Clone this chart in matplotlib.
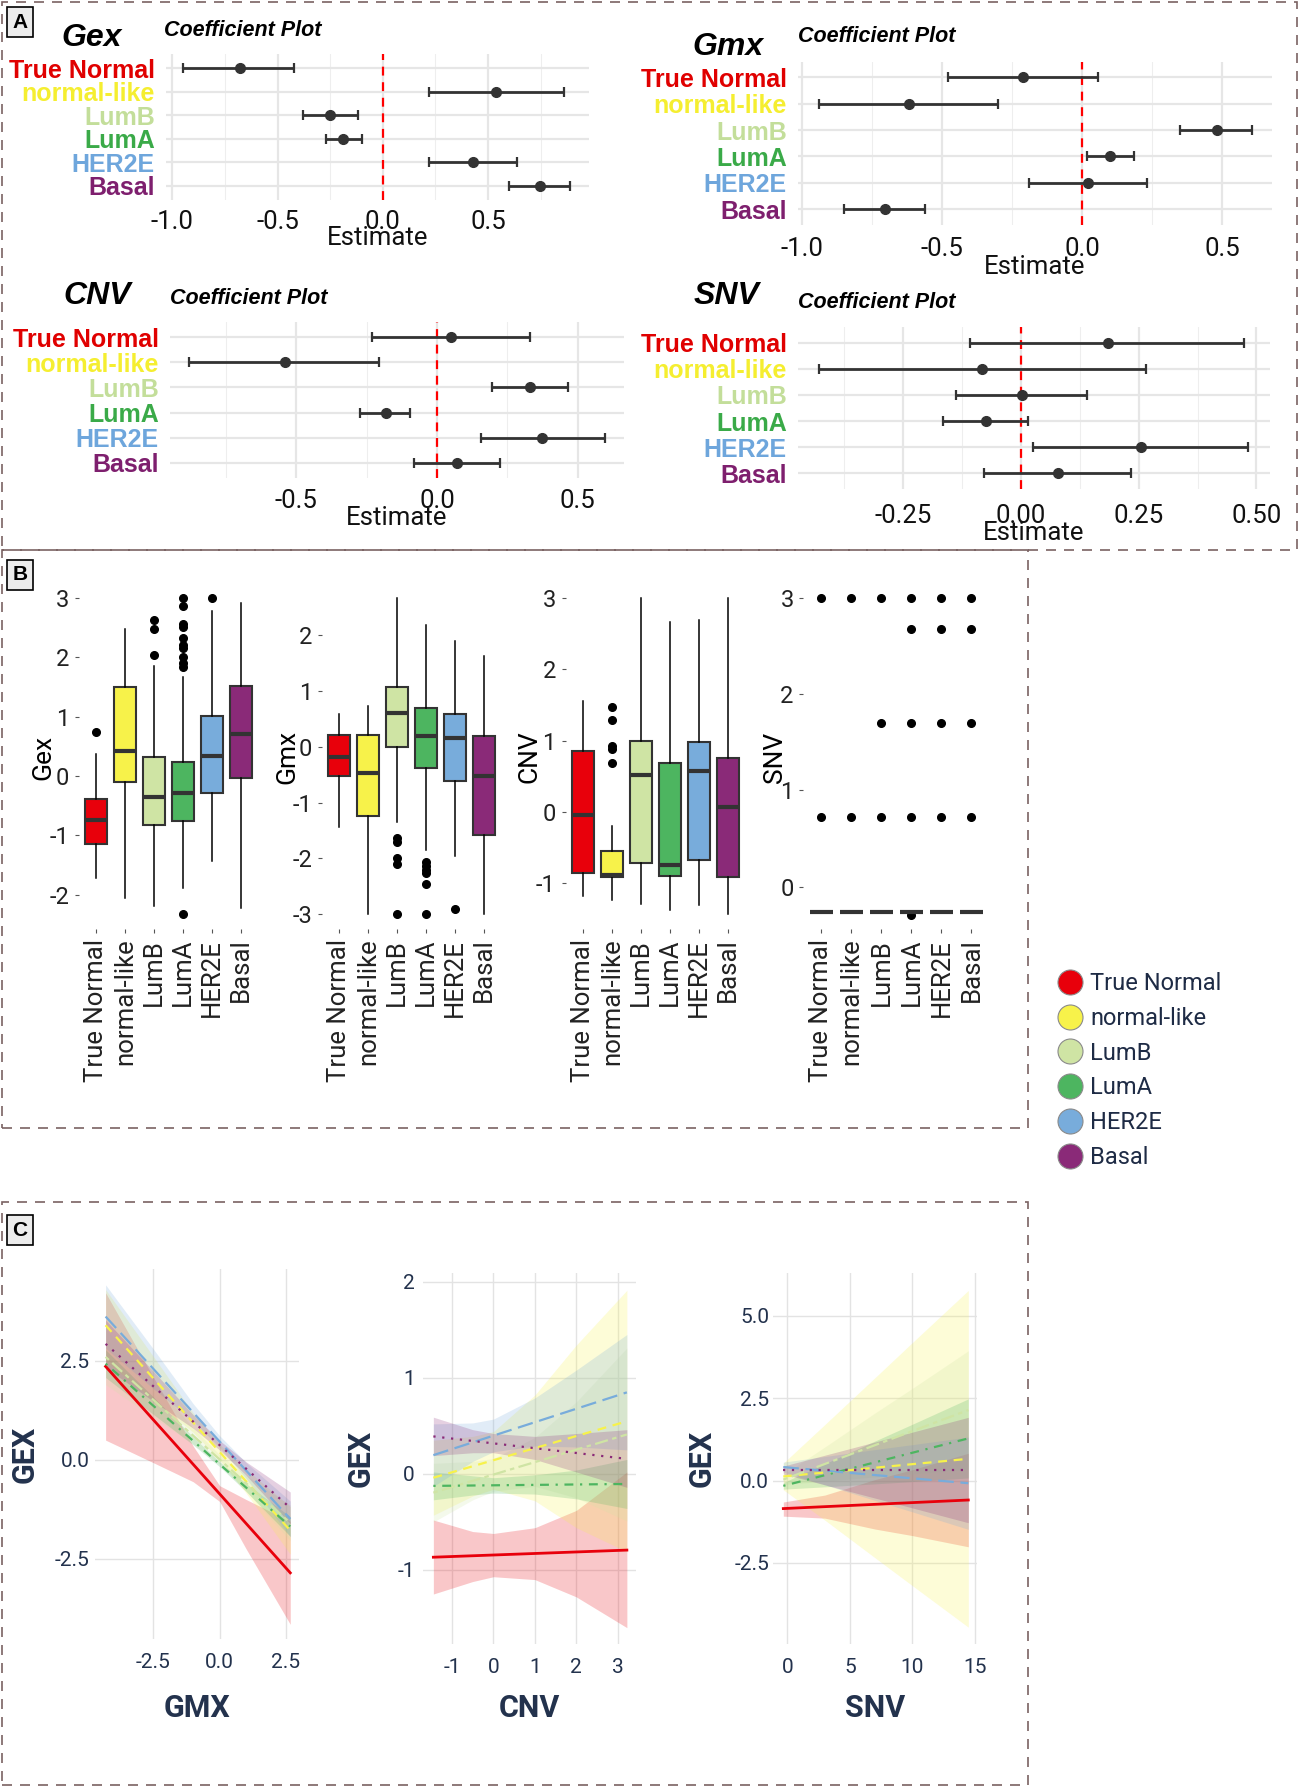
import numpy as np
import matplotlib
matplotlib.use('Agg')
import matplotlib.pyplot as plt
from matplotlib.patches import Rectangle
from matplotlib.lines import Line2D

W, H = 1299, 1788
fig = plt.figure(figsize=(W / 100, H / 100), dpi=100)
plt.rcParams['font.family'] = ['Roboto', 'DejaVu Sans']

# ---------------- data ----------------
categories = ['True Normal', 'normal-like', 'LumB', 'LumA', 'HER2E', 'Basal']
colors = ['#E8000B', '#F7F24A', '#CFE4A4', '#4DB560', '#78ACDB', '#8A2A78']
text_colors = ['#E00000', '#F5EE30', '#C3DE9A', '#3AAA48', '#6EA6DC', '#7E1F6E']

# Panel A coefficient estimates and 95% intervals
gex_est = [-0.68, 0.54, -0.25, -0.19, 0.43, 0.745]
gex_lo = [-0.95, 0.22, -0.38, -0.27, 0.22, 0.60]
gex_hi = [-0.42, 0.86, -0.12, -0.10, 0.64, 0.89]
gmx_est = [-0.21, -0.62, 0.48, 0.10, 0.02, -0.705]
gmx_lo = [-0.48, -0.94, 0.35, 0.017, -0.19, -0.85]
gmx_hi = [0.056, -0.30, 0.605, 0.186, 0.23, -0.56]
cnv_est = [0.05, -0.54, 0.33, -0.18, 0.375, 0.07]
cnv_lo = [-0.23, -0.88, 0.195, -0.275, 0.155, -0.08]
cnv_hi = [0.33, -0.205, 0.465, -0.097, 0.597, 0.223]
snv_est = [0.184, -0.082, 0.003, -0.075, 0.255, 0.078]
snv_lo = [-0.108, -0.43, -0.138, -0.166, 0.026, -0.078]
snv_hi = [0.473, 0.265, 0.141, 0.014, 0.483, 0.233]

# Panel B box statistics
gex_q1 = [-1.15, -0.11, -0.83, -0.76, -0.29, -0.04]
gex_med = [-0.745, 0.42, -0.36, -0.28, 0.33, 0.71]
gex_q3 = [-0.39, 1.50, 0.32, 0.24, 1.01, 1.52]
gex_wlo = [-1.72, -2.05, -2.20, -1.89, -1.44, -2.22]
gex_whi = [0.366, 2.48, 1.85, 1.66, 2.78, 2.91]
gex_out = [[0.74], [], [2.63, 2.47, 2.04],
           [3.0, 2.87, 2.57, 2.51, 2.33, 2.21, 2.15, 2.0, 1.91, 1.83, -2.32], [3.0], []]

gmx_q1 = [-0.53, -1.24, 0.0, -0.38, -0.61, -1.58]
gmx_med = [-0.19, -0.47, 0.60, 0.19, 0.15, -0.52]
gmx_q3 = [0.20, 0.21, 1.07, 0.68, 0.59, 0.18]
gmx_wlo = [-1.43, -3.0, -1.34, -1.85, -1.96, -3.0]
gmx_whi = [0.59, 0.72, 2.66, 2.17, 1.89, 1.61]
gmx_out = [[], [], [-1.63, -1.71, -1.99, -2.10, -3.0],
           [-2.06, -2.14, -2.21, -2.26, -2.45, -3.0], [-2.91], []]

cnv_q1 = [-0.855, -0.905, -0.72, -0.90, -0.675, -0.915]
cnv_med = [-0.045, -0.885, 0.515, -0.75, 0.575, 0.065]
cnv_q3 = [0.85, -0.545, 0.995, 0.68, 0.975, 0.76]
cnv_wlo = [-1.18, -1.235, -1.285, -1.375, -1.30, -1.435]
cnv_whi = [1.55, -0.20, 3.0, 2.665, 2.69, 3.0]
cnv_out = [[], [1.475, 1.29, 0.925, 0.88, 0.68], [], [], [], []]

snv_q1 = [-0.263] * 6
snv_med = [-0.263] * 6
snv_q3 = [-0.263] * 6
snv_wlo = [-0.263] * 6
snv_whi = [-0.263] * 6
snv_out = [[3.0, 0.72], [3.0, 0.72], [3.0, 1.70, 0.72],
           [3.0, 2.68, 1.70, 0.72, -0.29], [3.0, 2.68, 1.70, 0.72], [3.0, 2.68, 1.70, 0.72]]

# Panel C fitted lines (start/end) and confidence bands
gmx_x = [-4.3, 2.66]
gmx_fit = [[2.36, -2.85], [3.40, -1.78], [2.60, -1.59], [2.43, -1.68], [3.62, -1.49], [2.93, -1.21]]
gmx_band_x = [-4.3, -2.5, -1.0, 0.0, 1.0, 2.66]
gmx_band_lo = [[0.50, -0.07, -0.55, -1.05, -2.25, -4.15],
               [2.50, 1.51, 0.70, 0.00, -0.84, -2.38],
               [1.90, 1.07, 0.41, -0.11, -0.79, -2.04],
               [2.08, 1.15, 0.38, -0.17, -0.80, -1.93],
               [2.82, 1.80, 0.98, 0.31, -0.47, -1.94],
               [2.33, 1.48, 0.80, 0.25, -0.39, -1.61]]
gmx_band_hi = [[4.22, 2.09, 0.35, -0.65, -1.00, -1.55],
               [4.30, 2.61, 1.19, 0.40, -0.24, -1.18],
               [3.30, 1.97, 0.81, 0.13, -0.39, -1.14],
               [2.78, 1.59, 0.58, -0.05, -0.60, -1.43],
               [4.42, 2.80, 1.42, 0.61, -0.07, -1.04],
               [3.53, 2.24, 1.14, 0.49, -0.05, -0.81]]

cnv_x = [-1.45, 3.22]
cnv_fit = [[-0.867, -0.793], [-0.04, 0.547], [-0.195, 0.41], [-0.125, -0.105], [0.195, 0.848], [0.39, 0.156]]
cnv_band_x = [-1.45, -0.5, 0.0, 1.0, 2.0, 3.22]
cnv_band_lo = [[-1.25, -1.12, -1.07, -1.10, -1.28, -1.60],
               [-0.43, -0.23, -0.16, -0.28, -0.56, -0.81],
               [-0.50, -0.27, -0.18, -0.13, -0.25, -0.49],
               [-0.27, -0.22, -0.20, -0.21, -0.26, -0.36],
               [-0.13, 0.13, 0.23, 0.29, 0.28, 0.25],
               [0.19, 0.22, 0.22, 0.15, 0.02, -0.14]]
cnv_band_hi = [[-0.48, -0.60, -0.62, -0.56, -0.38, 0.02],
               [0.35, 0.39, 0.44, 0.82, 1.34, 1.91],
               [0.11, 0.13, 0.16, 0.38, 0.75, 1.31],
               [0.02, -0.02, -0.04, -0.01, 0.04, 0.15],
               [0.52, 0.53, 0.57, 0.79, 1.08, 1.45],
               [0.59, 0.46, 0.42, 0.39, 0.42, 0.46]]

snv_x = [-0.32, 14.47]
snv_fit = [[-0.85, -0.59], [0.125, 0.66], [0.03, 2.14], [-0.16, 1.28], [0.41, -0.08], [0.32, 0.32]]
snv_band_x = [-0.32, 3.0, 7.0, 10.0, 14.47]
snv_band_lo = [[-1.08, -1.14, -1.47, -1.67, -2.01],
               [-0.28, -1.20, -2.34, -3.19, -4.45],
               [-0.12, -0.02, 0.11, 0.20, 0.34],
               [-0.26, -0.19, -0.10, -0.03, 0.08],
               [0.26, -0.13, -0.60, -0.95, -1.48],
               [0.20, -0.13, -0.53, -0.83, -1.28]]
snv_band_hi = [[-0.65, -0.44, 0.03, 0.33, 0.83],
               [0.53, 1.70, 3.12, 4.19, 5.77],
               [0.18, 1.02, 2.05, 2.80, 3.94],
               [-0.06, 0.51, 1.20, 1.71, 2.48],
               [0.56, 0.73, 0.94, 1.09, 1.32],
               [0.44, 0.77, 1.17, 1.47, 1.92]]

line_styles = ['-', (0, (4, 3)), (0, (2, 2, 6, 2)), (0, (1, 3, 4, 3)), (0, (7, 3)), (0, (1, 3))]
NAVY = '#23324d'


def add_ax(x0, y0, x1, y1):
    return fig.add_axes([x0 / W, 1 - y1 / H, (x1 - x0) / W, (y1 - y0) / H])


def px_text(x, y, s, **kw):
    fig.text(x / W, 1 - y / H, s, **kw)


# ---------------- Panel A ----------------
def coef_panel(box, est, lo, hi, xlim, ticks, minor, title, title_xy, sub_xy, tick_pad, est_y):
    x0, y0, x1, y1 = box
    ax = add_ax(x0, y0, x1, y1)
    ypos = np.arange(1, 7)
    est = np.array(est); lo = np.array(lo); hi = np.array(hi)
    ax.set_xlim(*xlim)
    ax.set_ylim(6.6, 0.4)
    ax.set_xticks(ticks)
    ax.set_xticklabels(['%.2f' % t if title == 'SNV' else '%.1f' % t for t in ticks],
                       fontsize=18.5, fontweight='normal', color='#111111')
    ax.set_xticks(minor, minor=True)
    ax.set_yticks(ypos)
    ax.set_yticklabels(categories, fontsize=18, fontweight='bold', family='Liberation Sans')
    for t, c in zip(ax.get_yticklabels(), text_colors):
        t.set_color(c)
    ax.grid(True, which='major', color='#e6e6e6', lw=1.6)
    ax.grid(True, which='minor', axis='x', color='#eeeeee', lw=0.8)
    ax.set_axisbelow(True)
    for s in ax.spines.values():
        s.set_visible(False)
    ax.tick_params(axis='both', which='both', length=0)
    ax.tick_params(axis='x', pad=tick_pad)
    ax.tick_params(axis='y', pad=8)
    ax.axvline(0, color='#ff0000', ls=(0, (4, 3)), lw=1.6, zorder=2)
    ax.errorbar(est, ypos, xerr=[est - lo, hi - est], fmt='o', color='#333333',
                ms=7, elinewidth=2.0, capsize=3.5, capthick=1.6, zorder=3)
    ax.set_xlabel('Estimate', fontsize=18.5, fontweight='normal', color='#111111')
    ax.xaxis.set_label_coords(0.5, (y1 - est_y) / (y1 - y0))
    ax.xaxis.label.set_va('center')
    px_text(title_xy[0], title_xy[1], title, fontsize=23, fontweight='bold', style='italic',
            family='Liberation Sans', ha='center', va='center')
    px_text(sub_xy[0], sub_xy[1], 'Coefficient Plot', fontsize=15.5, fontweight='bold',
            style='italic', family='Liberation Sans', ha='left', va='center')
    return ax


coef_panel((166, 54, 589, 200), gex_est, gex_lo, gex_hi, (-1.03, 0.98),
           [-1.0, -0.5, 0.0, 0.5], [-0.75, -0.25, 0.25, 0.75], 'Gex', (92, 38), (164, 31), 7, 238)
coef_panel((798, 61.5, 1272, 225), gmx_est, gmx_lo, gmx_hi, (-1.015, 0.678),
           [-1.0, -0.5, 0.0, 0.5], [-0.75, -0.25, 0.25], 'Gmx', (728, 47), (798, 37), 9, 267)
coef_panel((170, 322, 624, 478), cnv_est, cnv_lo, cnv_hi, (-0.949, 0.665),
           [-0.5, 0.0, 0.5], [-0.75, -0.25, 0.25], 'CNV', (97, 296), (170, 298), 8, 518)
coef_panel((798, 327, 1270, 489), snv_est, snv_lo, snv_hi, (-0.4736, 0.529),
           [-0.25, 0.0, 0.25, 0.5], [-0.375, -0.125, 0.125, 0.375], 'SNV', (727, 296), (798, 303), 11, 533)

# ---------------- Panel B ----------------
def box_panel(box, q1, med, q3, wlo, whi, out, ylim, yticks, label, lab_x):
    x0, y0, x1, y1 = box
    ax = add_ax(x0, y0, x1, y1)
    stats = []
    for i in range(6):
        stats.append(dict(med=med[i], q1=q1[i], q3=q3[i], whislo=wlo[i], whishi=whi[i],
                          fliers=out[i]))
    pos = np.arange(1, 7)
    bp = ax.bxp(stats, positions=pos, widths=0.75, patch_artist=True, showcaps=False,
                boxprops=dict(edgecolor='#333333', linewidth=1.5),
                medianprops=dict(color='#333333', linewidth=3),
                whiskerprops=dict(color='black', linewidth=1.1),
                flierprops=dict(marker='o', markerfacecolor='black', markeredgecolor='black',
                                markersize=5.5, linestyle='none'))
    for patch, c in zip(bp['boxes'], colors):
        patch.set_facecolor(c)
    ax.set_xlim(0.4, 6.6)
    ax.set_ylim(*ylim)
    ax.set_yticks(yticks)
    ax.set_yticklabels([str(t) for t in yticks], fontsize=17, fontweight='normal', color='#222222')
    ax.set_xticks(pos)
    ax.set_xticklabels(categories, rotation=90, fontsize=18.5, fontweight='normal', color='#222222')
    for s in ax.spines.values():
        s.set_visible(False)
    ax.tick_params(axis='both', length=3, width=0.8, color='#555555', pad=4)
    ax.set_ylabel(label, fontsize=19, color='black')
    ax.yaxis.set_label_coords((lab_x - x0) / (x1 - x0), (y1 - 757) / (y1 - y0))
    ax.yaxis.label.set_va('center')
    return ax


box_panel((79, 582, 258, 929), gex_q1, gex_med, gex_q3, gex_wlo, gex_whi, gex_out,
          (-2.58, 3.27), [-2, -1, 0, 1, 2, 3], 'Gex', 43)
box_panel((322, 582, 501, 929), gmx_q1, gmx_med, gmx_q3, gmx_wlo, gmx_whi, gmx_out,
          (-3.26, 2.94), [-3, -2, -1, 0, 1, 2], 'Gmx', 287)
box_panel((565.5, 582, 745.3, 929), cnv_q1, cnv_med, cnv_q3, cnv_wlo, cnv_whi, cnv_out,
          (-1.64, 3.22), [-1, 0, 1, 2, 3], 'CNV', 530)
box_panel((803.4, 582, 989.4, 929), snv_q1, snv_med, snv_q3, snv_wlo, snv_whi, snv_out,
          (-0.44, 3.167), [0, 1, 2, 3], 'SNV', 775)

handles = [Line2D([0], [0], marker='o', ls='', ms=18, mfc=c, mec='#8a8a8a', mew=0.8)
           for c in colors]
fig.legend(handles, categories, loc='upper left', bbox_to_anchor=(1058 / W, 1 - 972 / H),
           frameon=False, fontsize=17, handlelength=1.0, handletextpad=0.35,
           labelspacing=0.5, borderpad=0, borderaxespad=0, labelcolor='#1e2b45')

# ---------------- Panel C ----------------
def line_panel(box, xs, fits, bx, blo, bhi, xlim, ylim, xticks, xtl, yticks, ytl, xlabel,
               ylab_x, ypad):
    x0, y0, x1, y1 = box
    ax = add_ax(x0, y0, x1, y1)
    for i in range(6):
        ax.fill_between(bx, blo[i], bhi[i], color=colors[i], alpha=0.22, lw=0)
    for i in range(6):
        ax.plot(xs, fits[i], color=colors[i], ls=line_styles[i],
                lw=2.0 if i == 0 else 1.6)
    ax.set_xlim(*xlim)
    ax.set_ylim(*ylim)
    ax.set_xticks(xticks)
    ax.set_xticklabels(xtl, fontsize=15, color=NAVY)
    ax.set_yticks(yticks)
    ax.set_yticklabels(ytl, fontsize=15, color=NAVY)
    ax.grid(True, color='#e3e3e3', lw=1.0)
    ax.set_axisbelow(True)
    for s in ax.spines.values():
        s.set_visible(False)
    ax.tick_params(axis='both', length=0)
    ax.tick_params(axis='x', pad=10)
    ax.tick_params(axis='y', pad=ypad)
    ax.set_xlabel(xlabel, fontsize=22, fontweight='bold', color=NAVY)
    ax.xaxis.set_label_coords(0.5, (y1 - 1708) / (y1 - y0))
    ax.xaxis.label.set_va('center')
    ax.set_ylabel('GEX', fontsize=22, fontweight='bold', color=NAVY)
    ax.yaxis.set_label_coords((ylab_x - x0) / (x1 - x0), 0.5)
    ax.yaxis.label.set_va('center')
    return ax


line_panel((95, 1269, 298.5, 1639), gmx_x, gmx_fit, gmx_band_x, gmx_band_lo, gmx_band_hi,
           (-4.7, 2.97), (-4.52, 4.82), [-2.5, 0, 2.5], ['-2.5', '0.0', '2.5'],
           [-2.5, 0, 2.5], ['-2.5', '0.0', '2.5'], 'GMX', 25, 4)
line_panel((423, 1273, 636.4, 1644), cnv_x, cnv_fit, cnv_band_x, cnv_band_lo, cnv_band_hi,
           (-1.70, 3.45), (-1.77, 2.09), [-1, 0, 1, 2, 3], ['-1', '0', '1', '2', '3'],
           [-1, 0, 1, 2], ['-1', '0', '1', '2'], 'CNV', 361, 6)
line_panel((773.3, 1273, 976.7, 1644), snv_x, snv_fit, snv_band_x, snv_band_lo, snv_band_hi,
           (-1.12, 15.14), (-4.96, 6.3), [0, 5, 10, 15], ['0', '5', '10', '15'],
           [-2.5, 0, 2.5, 5.0], ['-2.5', '0.0', '2.5', '5.0'], 'SNV', 702, 3)

# ---------------- borders and panel letters ----------------
for (bx0, by0, bx1, by1) in [(2, 2, 1297, 550), (2, 550, 1028, 1128), (2, 1202, 1028, 1785)]:
    fig.patches.append(Rectangle((bx0 / W, 1 - by1 / H), (bx1 - bx0) / W, (by1 - by0) / H,
                                 transform=fig.transFigure, fill=False, ec='#7a6262',
                                 lw=1.2, ls=(0, (6, 4.8))))

for letter, (lx, ly) in zip(['A', 'B', 'C'], [(20, 22), (20, 575), (20, 1230)]):
    px_text(lx, ly, letter, fontsize=15, fontweight='bold', ha='center', va='center',
            family='Liberation Sans',
            bbox=dict(boxstyle='square,pad=0.25', fc='#ececec', ec='black', lw=1.2))

fig.savefig('out.png', dpi=100)
